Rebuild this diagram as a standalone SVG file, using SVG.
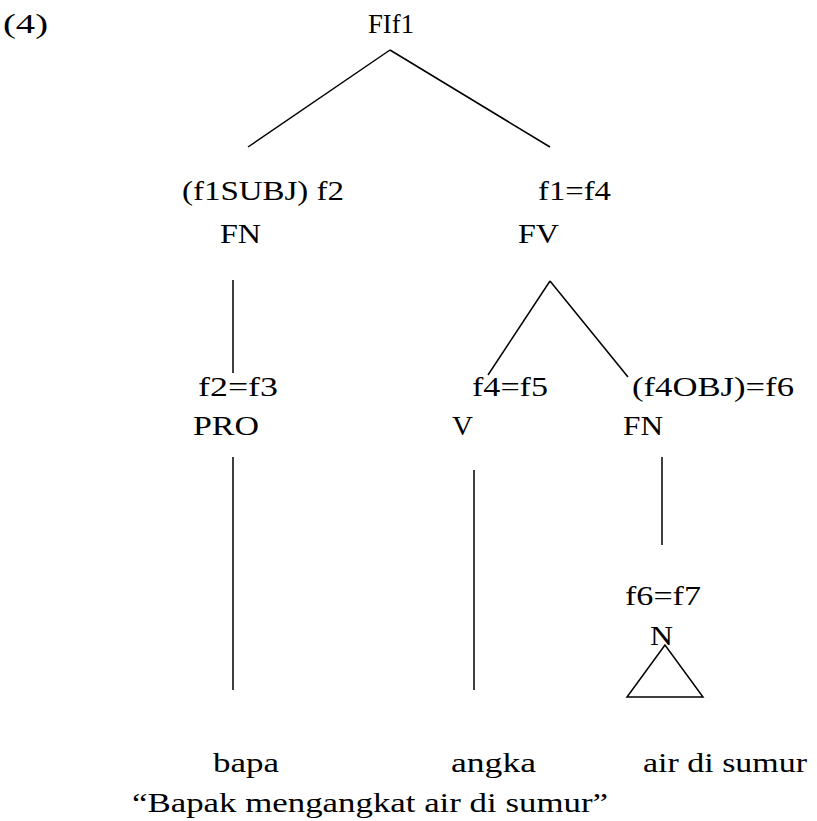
<svg xmlns="http://www.w3.org/2000/svg" width="817" height="821" viewBox="0 0 817 821">
<style>
text{font-family:"Liberation Serif","DejaVu Serif",serif;font-size:28px;fill:#000}
line,polygon{stroke:#000;stroke-width:1.5;fill:none}
</style>
<rect width="817" height="821" fill="#fff"/>
<g id="connectors">
<line x1="390" y1="50" x2="248" y2="147"/>
<line x1="390" y1="50" x2="550" y2="147"/>
<line x1="233" y1="280" x2="233" y2="373"/>
<line x1="550" y1="281" x2="488" y2="375"/>
<line x1="550" y1="281" x2="628" y2="377"/>
<line x1="233" y1="457" x2="233" y2="690"/>
<line x1="474" y1="470" x2="474" y2="690"/>
<line x1="662" y1="457" x2="662" y2="545"/>
<polygon points="665,645 627,697 703,697"/>
</g>
<g id="label"><text x="3" y="33" textLength="45" lengthAdjust="spacingAndGlyphs">(4)</text></g>
<g id="root"><text x="368" y="33" textLength="46" lengthAdjust="spacingAndGlyphs">FIf1</text></g>
<g id="subj"><text x="182" y="200" textLength="162" lengthAdjust="spacingAndGlyphs">(f1SUBJ) f2</text><text x="220" y="243" textLength="41" lengthAdjust="spacingAndGlyphs">FN</text></g>
<g id="fv"><text x="538" y="200" textLength="73" lengthAdjust="spacingAndGlyphs">f1=f4</text><text x="518" y="243" textLength="41" lengthAdjust="spacingAndGlyphs">FV</text></g>
<g id="pro"><text x="198" y="396" textLength="80" lengthAdjust="spacingAndGlyphs">f2=f3</text><text x="193" y="435" textLength="66" lengthAdjust="spacingAndGlyphs">PRO</text></g>
<g id="v"><text x="472" y="396" textLength="76" lengthAdjust="spacingAndGlyphs">f4=f5</text><text x="452" y="435" textLength="21" lengthAdjust="spacingAndGlyphs">V</text></g>
<g id="obj"><text x="632" y="396" textLength="162" lengthAdjust="spacingAndGlyphs">(f4OBJ)=f6</text><text x="623" y="435" textLength="40" lengthAdjust="spacingAndGlyphs">FN</text></g>
<g id="n"><text x="625" y="605" textLength="76" lengthAdjust="spacingAndGlyphs">f6=f7</text><text x="650" y="645" textLength="23" lengthAdjust="spacingAndGlyphs">N</text></g>
<g id="words"><text x="213" y="772" textLength="66" lengthAdjust="spacingAndGlyphs">bapa</text><text x="451" y="772" textLength="85" lengthAdjust="spacingAndGlyphs">angka</text><text x="643" y="772" textLength="164" lengthAdjust="spacingAndGlyphs">air di sumur</text></g>
<g id="gloss"><text x="132" y="812" textLength="476" lengthAdjust="spacingAndGlyphs">“Bapak mengangkat air di sumur”</text></g>
</svg>
